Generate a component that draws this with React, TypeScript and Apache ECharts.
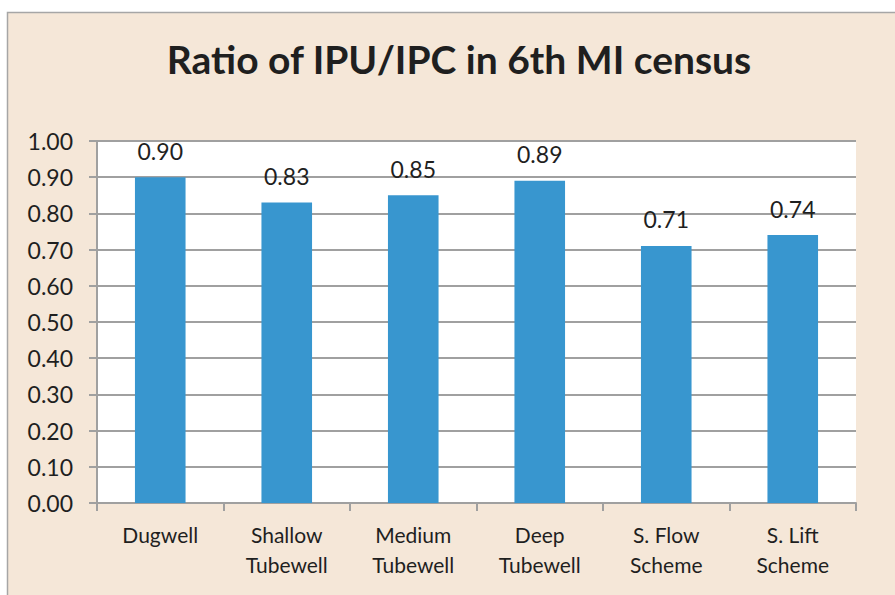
import React, { useEffect, useRef } from "react";
import * as echarts from "echarts";

const categories = ["Dugwell", "Shallow\nTubewell", "Medium\nTubewell", "Deep\nTubewell", "S. Flow\nScheme", "S. Lift\nScheme"];
const ratios = [0.90, 0.83, 0.85, 0.89, 0.71, 0.74];
const titleText = "Ratio of IPU/IPC in 6th MI census";

export default function App() {
  const ref = useRef<HTMLDivElement>(null);
  useEffect(() => {
    const chart = echarts.init(ref.current!, null, { renderer: "svg" });
    const font = "Lato, 'Open Sans', sans-serif";
    chart.setOption({
      animation: false,
      backgroundColor: "#ffffff",
      graphic: [
        {
          type: "rect",
          shape: { x: 7.5, y: 12.5, width: 900, height: 600 },
          style: { fill: "#F5E7D8", stroke: "#A6A6A6", lineWidth: 1.5 },
          z: -10,
        },
        {
          type: "rect",
          shape: { x: 97, y: 141, width: 759, height: 362 },
          style: { fill: "#ffffff" },
          z: -5,
        },
        {
          type: "text",
          x: 459,
          y: 59,
          style: {
            text: titleText,
            font: `bold 39px ${font}`,
            fill: "#1F1F1F",
            textAlign: "center",
            textVerticalAlign: "middle",
          },
        },
      ],
      grid: { left: 97, right: 39, top: 141, bottom: 92, containLabel: false },
      xAxis: {
        type: "category",
        data: categories,
        axisLine: { show: true, lineStyle: { color: "#A0A0A0", width: 2 } },
        axisTick: { show: true, alignWithLabel: false, length: 8, lineStyle: { color: "#A0A0A0", width: 2 } },
        axisLabel: {
          color: "#1F1F1F",
          fontFamily: font,
          fontSize: 21,
          lineHeight: 30,
          margin: 16,
          interval: 0,
        },
      },
      yAxis: {
        type: "value",
        min: 0,
        max: 1,
        interval: 0.1,
        axisLine: { show: true, lineStyle: { color: "#A0A0A0", width: 2 } },
        axisTick: { show: true, length: 8, lineStyle: { color: "#A0A0A0", width: 2 } },
        axisLabel: {
          color: "#1F1F1F",
          fontFamily: font,
          fontSize: 23,
          margin: 24,
          formatter: (v: number) => v.toFixed(2),
        },
        splitLine: { show: true, lineStyle: { color: "#A0A0A0", width: 2 } },
      },
      series: [
        {
          type: "bar",
          data: ratios,
          barWidth: "40%",
          itemStyle: { color: "#3896CF" },
          label: {
            show: true,
            position: "top",
            distance: 15,
            color: "#1F1F1F",
            fontFamily: font,
            fontSize: 23,
            formatter: (p: any) => Number(p.value).toFixed(2),
          },
        },
      ],
    });
    return () => chart.dispose();
  }, []);
  return (
    <div
      ref={ref}
      style={{ position: "fixed", left: 0, top: 0, width: 895, height: 595 }}
    />
  );
}
